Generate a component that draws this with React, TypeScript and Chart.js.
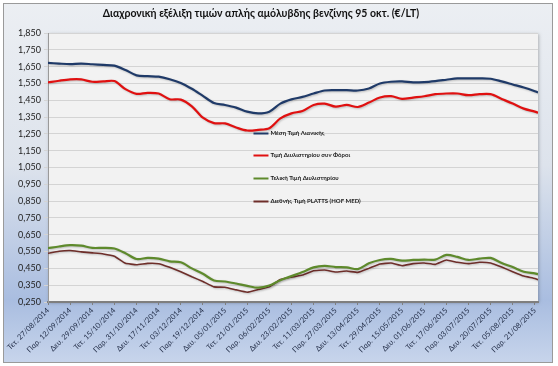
import { useEffect, useRef } from "react";
import { Chart, registerables } from "chart.js";

Chart.register(...registerables);

const TITLE = "Διαχρονική εξέλιξη τιμών απλής αμόλυβδης βενζίνης 95 οκτ. (€/LT)";

const TICK_LABELS = [
  "Τετ. 27/08/2014", "Παρ. 12/09/2014", "Δευ. 29/09/2014", "Τετ. 15/10/2014",
  "Παρ. 31/10/2014", "Δευ. 17/11/2014", "Τετ. 03/12/2014", "Παρ. 19/12/2014",
  "Δευ. 05/01/2015", "Τετ. 21/01/2015", "Παρ. 06/02/2015", "Δευ. 23/02/2015",
  "Τετ. 11/03/2015", "Παρ. 27/03/2015", "Δευ. 13/04/2015", "Τετ. 29/04/2015",
  "Παρ. 15/05/2015", "Δευ. 01/06/2015", "Τετ. 17/06/2015", "Παρ. 03/07/2015",
  "Δευ. 20/07/2015", "Τετ. 05/08/2015", "Παρ. 21/08/2015",
];
const TICK_DAYS = [0, 14, 28, 42, 56, 70, 84, 98, 112, 126, 140, 154, 168, 182, 196, 210, 224, 238, 252, 266, 280, 294, 308];

const DAY_INDEX = [
  0, 7, 14, 21, 28, 35, 42, 49, 56, 63, 70, 77, 84, 91, 98, 105, 112, 119, 126, 133, 140, 147,
  154, 161, 168, 175, 182, 189, 196, 203, 210, 217, 224, 231, 238, 245, 252, 259, 266, 273, 280,
  287, 294, 301, 308, 310,
];

const RETAIL = [
  1.672, 1.668, 1.665, 1.668, 1.664, 1.660, 1.656, 1.630, 1.598, 1.593, 1.590, 1.575, 1.553, 1.518,
  1.476, 1.434, 1.422, 1.406, 1.382, 1.372, 1.382, 1.430, 1.455, 1.470, 1.490, 1.508, 1.510, 1.510,
  1.508, 1.520, 1.550, 1.560, 1.562, 1.556, 1.558, 1.564, 1.572, 1.580, 1.580, 1.580, 1.578, 1.562,
  1.544, 1.526, 1.504, 1.496,
];
const REFINERY_TAX = [
  1.556, 1.566, 1.574, 1.574, 1.560, 1.562, 1.564, 1.516, 1.488, 1.494, 1.490, 1.456, 1.454, 1.414,
  1.346, 1.314, 1.312, 1.288, 1.270, 1.274, 1.284, 1.342, 1.372, 1.386, 1.422, 1.430, 1.412, 1.422,
  1.410, 1.436, 1.466, 1.474, 1.458, 1.466, 1.474, 1.486, 1.490, 1.490, 1.480, 1.486, 1.486, 1.458,
  1.430, 1.400, 1.382, 1.376,
];
const REFINERY_FINAL = [
  0.570, 0.580, 0.588, 0.585, 0.572, 0.572, 0.568, 0.540, 0.506, 0.512, 0.508, 0.492, 0.486, 0.450,
  0.418, 0.378, 0.372, 0.360, 0.346, 0.335, 0.348, 0.380, 0.404, 0.428, 0.456, 0.465, 0.458, 0.456,
  0.446, 0.480, 0.500, 0.506, 0.496, 0.500, 0.502, 0.502, 0.530, 0.518, 0.500, 0.508, 0.512, 0.482,
  0.458, 0.430, 0.420, 0.416,
];
const PLATTS = [
  0.540, 0.552, 0.556, 0.548, 0.542, 0.536, 0.522, 0.480, 0.472, 0.480, 0.478, 0.456, 0.430, 0.400,
  0.372, 0.340, 0.338, 0.322, 0.308, 0.324, 0.340, 0.384, 0.398, 0.410, 0.436, 0.440, 0.428, 0.434,
  0.426, 0.450, 0.476, 0.482, 0.466, 0.478, 0.482, 0.474, 0.500, 0.486, 0.478, 0.486, 0.482, 0.458,
  0.430, 0.404, 0.390, 0.382,
];

const SERIES_NAMES = [
  "Μέση Τιμή Λιανικής",
  "Τιμή Διυλιστηρίου συν Φόροι",
  "Τελική Τιμή Διυλιστηρίου",
  "Διεθνής Τιμή PLATTS (HOF MED)",
];
const SERIES_COLORS = ["#1f3a68", "#e01010", "#5e8a2c", "#6e2e2a"];
const LEGEND_ROWS = [1.255, 1.123, 0.985, 0.848];

const toPoints = (vals: number[]) => vals.map((y, i) => ({ x: DAY_INDEX[i], y }));

const backgroundPlugin = {
  id: "bgPlugin",
  beforeDraw(chart: any) {
    const { ctx, width, height, chartArea } = chart;
    ctx.save();
    ctx.fillStyle = "#ffffff";
    ctx.fillRect(0, 0, width, height);
    const g = ctx.createLinearGradient(0, 0, 0, height);
    g.addColorStop(0, "#eceff3");
    g.addColorStop(0.45, "#dde3ec");
    g.addColorStop(0.82, "#a9bde0");
    g.addColorStop(1, "#c9d6ec");
    ctx.fillStyle = g;
    ctx.fillRect(3, 3, width - 8, height - 6);
    ctx.strokeStyle = "#9a9a9a";
    ctx.lineWidth = 1;
    ctx.strokeRect(3.5, 3.5, width - 9, height - 7);
    ctx.shadowColor = "rgba(0,0,0,0.25)";
    ctx.shadowBlur = 3;
    ctx.shadowOffsetX = 1;
    ctx.shadowOffsetY = 1;
    ctx.fillStyle = "#f2f2f2";
    ctx.fillRect(chartArea.left, chartArea.top, chartArea.right - chartArea.left, chartArea.bottom - chartArea.top);
    ctx.restore();
    ctx.save();
    ctx.fillStyle = "#111111";
    ctx.font = "bold 10.5px Lato";
    ctx.textAlign = "center";
    ctx.textBaseline = "middle";
    ctx.fillText(TITLE, 261, 14);
    ctx.restore();
  },
  beforeDatasetDraw(chart: any) {
    const ctx = chart.ctx;
    ctx.save();
    ctx.shadowColor = "rgba(0,0,0,0.22)";
    ctx.shadowBlur = 2;
    ctx.shadowOffsetX = 1;
    ctx.shadowOffsetY = 1;
  },
  afterDatasetDraw(chart: any) {
    chart.ctx.restore();
  },
  afterDatasetsDraw(chart: any) {
    const { ctx } = chart;
    const xs = chart.scales.x;
    const ys = chart.scales.y;
    ctx.save();
    const lx = xs.getPixelForValue(130);
    chart.data.datasets.forEach((ds: any, i: number) => {
      const y = Math.round(ys.getPixelForValue(LEGEND_ROWS[i])) + 0.5;
      ctx.strokeStyle = ds.borderColor;
      ctx.lineWidth = 2;
      ctx.beginPath();
      ctx.moveTo(lx, y);
      ctx.lineTo(lx + 15, y);
      ctx.stroke();
      ctx.fillStyle = "#1a1a1a";
      ctx.font = "bold 6px Lato";
      ctx.textBaseline = "middle";
      ctx.textAlign = "left";
      ctx.fillText(ds.label, lx + 17, y);
    });
    ctx.restore();
  },
};

export default function App() {
  const ref = useRef<HTMLCanvasElement | null>(null);
  useEffect(() => {
    document.body.style.margin = "0";
    const canvas = ref.current!;
    const data = [RETAIL, REFINERY_TAX, REFINERY_FINAL, PLATTS];
    const chart = new Chart(canvas, {
      type: "line",
      data: {
        datasets: data.map((vals, i) => ({
          label: SERIES_NAMES[i],
          data: toPoints(vals),
          borderColor: SERIES_COLORS[i],
          backgroundColor: SERIES_COLORS[i],
          borderWidth: i === 3 ? 1.6 : 2.2,
          pointRadius: 0,
          tension: i === 3 ? 0.1 : 0.3,
          fill: false,
        })),
      },
      options: {
        animation: false,
        responsive: false,
        maintainAspectRatio: false,
        layout: { padding: { top: 33, left: 8, right: 20, bottom: 6 } },
        plugins: {
          legend: { display: false },
          tooltip: { enabled: false },
          title: { display: false },
        },
        scales: {
          x: {
            type: "linear",
            min: 0,
            max: 310,
            afterBuildTicks: (axis: any) => {
              axis.ticks = TICK_DAYS.map((v) => ({ value: v }));
            },
            afterFit: (scale: any) => {
              scale.height = 58;
            },
            ticks: {
              autoSkip: false,
              maxRotation: 45,
              minRotation: 45,
              padding: 1,
              color: "#1f2a44",
              font: { family: "Lato", size: 7.5 },
              callback: (v: any) => {
                const k = TICK_DAYS.indexOf(Number(v));
                return k >= 0 ? TICK_LABELS[k] : "";
              },
            },
            grid: { drawOnChartArea: false, tickLength: 3, color: "#7f7f7f" },
            border: { color: "#7f7f7f", width: 2 },
          },
          y: {
            min: 0.25,
            max: 1.85,
            afterFit: (scale: any) => {
              scale.width = 40;
            },
            ticks: {
              stepSize: 0.1,
              padding: 3,
              color: "#222222",
              font: { family: "Lato", size: 9 },
              callback: (v: any) => Number(v).toFixed(3).replace(".", ","),
            },
            grid: { color: "#d4d4d4", tickLength: 4, lineWidth: 1 },
            border: { color: "#9a9a9a", width: 1 },
          },
        },
      },
      plugins: [backgroundPlugin],
    });
    return () => chart.destroy();
  }, []);
  return (
    <div style={{ width: 558, height: 366 }}>
      <canvas ref={ref} width={558} height={366} style={{ display: "block" }} />
    </div>
  );
}
